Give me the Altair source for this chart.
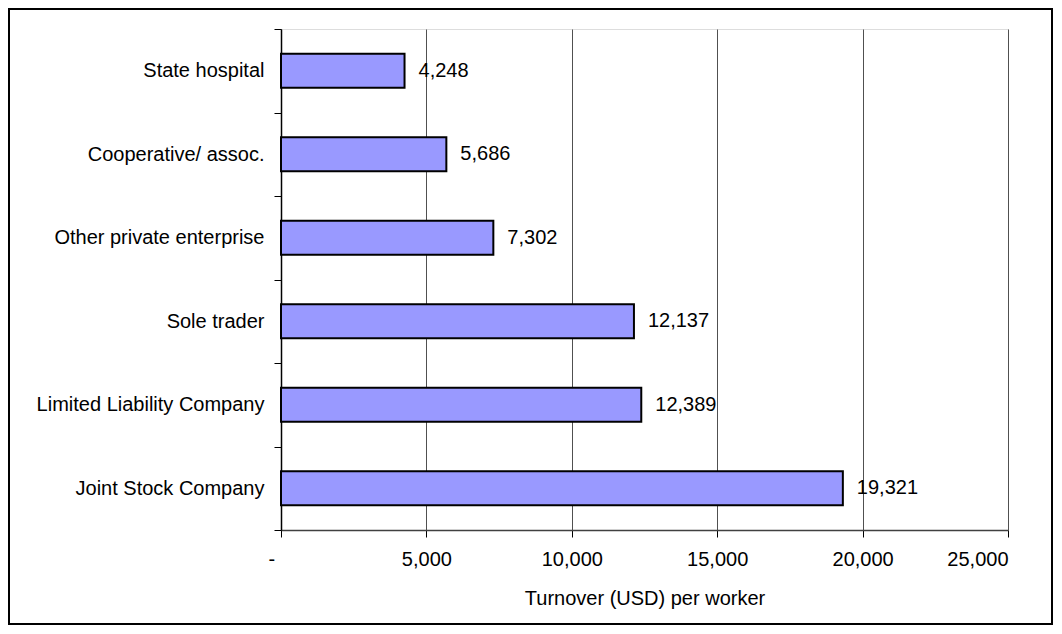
import altair as alt
import pandas as pd

categories = ["State hospital", "Cooperative/ assoc.", "Other private enterprise",
              "Sole trader", "Limited Liability Company", "Joint Stock Company"]
values = [4248, 5686, 7302, 12137, 12389, 19321]
x_ticks = [0, 5000, 10000, 15000, 20000, 25000]

df = pd.DataFrame({"cat": categories, "val": values})

W, H = 727, 501
FONT = "Liberation Sans"
FS = 20

yenc = alt.Y("cat:N", sort=categories, title=None,
             scale=alt.Scale(paddingInner=0, paddingOuter=0),
             axis=alt.Axis(domainColor="black", domainWidth=1.5, tickColor="black",
                           tickSize=7, tickWidth=1, tickBand="extent",
                           labelPadding=10, labelFont=FONT, labelFontSize=FS,
                           labelColor="black", grid=False, labelLimit=400))
xenc = alt.X("val:Q", title="Turnover (USD) per worker",
             scale=alt.Scale(domain=[0, 25000], nice=False),
             axis=alt.Axis(values=x_ticks, domainColor="#404040", domainWidth=1.5,
                           tickColor="black", tickSize=7, tickWidth=1,
                           labelExpr="datum.value == 0 ? '-' : format(datum.value, ',')",
                           labelOffset={"condition": {"test": "datum.value === 0", "value": -13}, "value": 0},
                           labelPadding=12, labelFont=FONT, labelFontSize=FS, labelColor="black",
                           titleFont=FONT, titleFontSize=FS, titleFontWeight="normal",
                           titleColor="black", titleY=74, titleBaseline="alphabetic",
                           grid=True, gridColor="#505050", gridWidth=1))

bars = alt.Chart(df).mark_bar(color="#9999FF", stroke="black", strokeWidth=2,
                              height=alt.RelativeBandSize(band=0.41)).encode(
    x=xenc, y=yenc)

labels = alt.Chart(df).mark_text(align="left", baseline="middle", dx=14, font=FONT,
                                 fontSize=FS, color="black").encode(
    x="val:Q", y=alt.Y("cat:N", sort=categories),
    text=alt.Text("val:Q", format=","))

frame = alt.Chart(df).mark_rect(fill=None, stroke="black", strokeWidth=1.5, clip=False).encode(
    x=alt.value(-272), x2=alt.value(771), y=alt.value(-20), y2=alt.value(595))

chart = alt.layer(frame, bars, labels).properties(
    width=W, height=H,
    autosize=alt.AutoSizeParams(type="none"),
    padding={"left": 273, "top": 21, "right": 45, "bottom": 96},
).configure_view(stroke="#808080", strokeWidth=1.5).configure(background="white")

chart.save("out.html", embed_options={"renderer": "svg", "actions": False})
